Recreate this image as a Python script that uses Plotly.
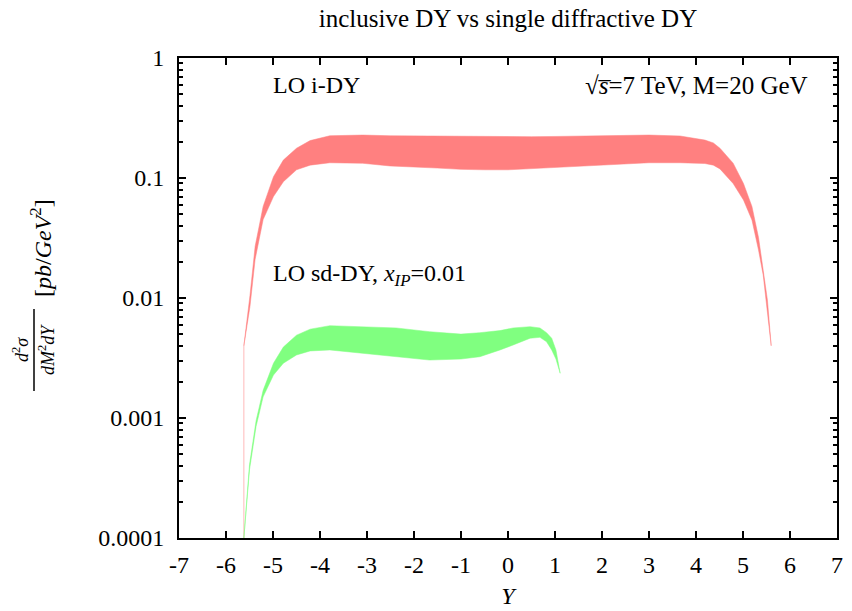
import plotly.graph_objects as go

# Inclusive Drell-Yan (LO i-DY): rapidity, lower and upper band edges [pb/GeV^2]
idy_y = [-5.62, -5.49, -5.38, -5.21, -4.99, -4.78, -4.50, -4.21, -3.79, -3.09,
         -2.51, -2.0, -1.5, -1.0, -0.5, 0.0, 0.5, 1.0, 1.5, 2.0, 2.5, 3.0,
         3.66, 4.19, 4.37, 4.51, 4.79, 5.01, 5.19, 5.33, 5.43, 5.52, 5.60]
idy_lo = [0.0040, 0.0085, 0.021, 0.045, 0.070, 0.093, 0.117, 0.128, 0.134, 0.1326,
          0.126, 0.123, 0.121, 0.118, 0.117, 0.117, 0.119, 0.121, 0.124, 0.127, 0.131, 0.134,
          0.134, 0.132, 0.128, 0.119, 0.090, 0.0656, 0.0447, 0.0251, 0.0155, 0.0075, 0.0040]
idy_hi = [0.0040, 0.0105, 0.027, 0.058, 0.1025, 0.141, 0.177, 0.205, 0.225, 0.228,
          0.225, 0.224, 0.222, 0.221, 0.220, 0.220, 0.221, 0.222, 0.223, 0.224, 0.226, 0.228,
          0.224, 0.207, 0.196, 0.177, 0.133, 0.090, 0.058, 0.032, 0.017, 0.0096, 0.0040]

# Single diffractive Drell-Yan (LO sd-DY, x_IP = 0.01)
sdy_y = [-5.62, -5.50, -5.36, -5.21, -4.99, -4.78, -4.50, -4.21, -3.79, -3.09,
         -2.38, -1.67, -1.0, -0.6, -0.17, 0.11, 0.47, 0.68, 0.82, 0.93, 1.02, 1.11]
sdy_lo = [0.0001, 0.00037, 0.00085, 0.0015, 0.00228, 0.00286, 0.00335, 0.00362, 0.00369, 0.00346,
          0.00324, 0.00304, 0.0031, 0.00324, 0.00369, 0.00406, 0.00462, 0.0047, 0.00432, 0.00369,
          0.0031, 0.00236]
sdy_hi = [0.0001, 0.00041, 0.00095, 0.0017, 0.00286, 0.0039, 0.0049, 0.0055, 0.00588, 0.00577,
          0.00563, 0.00524, 0.0050, 0.00514, 0.00535, 0.00563, 0.00577, 0.00563, 0.00514, 0.00462,
          0.00369, 0.00236]

x_ticks = [-7, -6, -5, -4, -3, -2, -1, 0, 1, 2, 3, 4, 5, 6, 7]
y_ticks = [1, 0.1, 0.01, 0.001, 0.0001]
y_tick_text = ["1", "0.1", "0.01", "0.001", "0.0001"]

RED = "#ff8080"
GREEN = "#80ff80"
SERIF = "Liberation Serif, DejaVu Serif, serif"
FS = 24

PLOT_W = 852 - 179 - 15   # width of the plotting area in px
PLOT_H = 611 - 58 - 73    # height of the plotting area in px

# minor ticks at 2..9 within each decade
y_minor = [d * m for d in y_ticks[1:] for m in range(2, 10)]


def band(x, lo, hi, color, name):
    return go.Scatter(
        x=list(x) + list(reversed(x)),
        y=list(hi) + list(reversed(lo)),
        fill="toself", fillcolor=color, mode="lines",
        line=dict(color=color, width=0.5), name=name, hoverinfo="skip",
    )


fig = go.Figure()
fig.add_trace(band(idy_y, idy_lo, idy_hi, RED, "LO i-DY"))
# thin edge dropping from the first i-DY point to the bottom of the frame
fig.add_trace(go.Scatter(
    x=[idy_y[0], idy_y[0]], y=[idy_lo[0], min(y_ticks)], mode="lines",
    line=dict(color="rgba(255,128,128,0.55)", width=1), hoverinfo="skip",
))
fig.add_trace(band(sdy_y, sdy_lo, sdy_hi, GREEN, "LO sd-DY"))

axis_common = dict(
    showline=True, linecolor="black", linewidth=2, mirror="allticks",
    ticks="inside", ticklen=7, tickwidth=2, tickcolor="black",
    showgrid=False, zeroline=False, automargin=False,
    tickfont=dict(family=SERIF, size=FS, color="black"),
)

fig.update_layout(
    width=852, height=611,
    margin=dict(l=179, r=15, t=58, b=73),
    paper_bgcolor="white", plot_bgcolor="white",
    showlegend=False,
    title=dict(text="inclusive DY vs single diffractive DY", x=0.5, xref="paper",
               xanchor="center", y=1 - 18 / 611, yanchor="middle",
               font=dict(family=SERIF, size=25, color="black")),
    xaxis=dict(range=[-7, 7], tickvals=x_ticks, ticktext=[str(v) for v in x_ticks],
               ticklabelstandoff=4,
               title=dict(text="<i>Y</i>", font=dict(family=SERIF, size=FS, color="black"),
                          standoff=10),
               **axis_common),
    yaxis=dict(type="log", range=[-4, 0], tickvals=y_ticks, ticktext=y_tick_text,
               ticklabelstandoff=8,
               minor=dict(ticks="inside", ticklen=4, tickwidth=2, tickcolor="black",
                          tickvals=y_minor),
               **axis_common),
)

# y-axis label: rotated fraction d^2σ / (dM^2 dY) followed by the unit
fig.add_annotation(x=(20 - 179) / PLOT_W, y=(538 - 350) / PLOT_H, xref="paper", yref="paper",
                   text="<i>d</i><sup>2</sup><i>σ</i>", textangle=-90, showarrow=False,
                   xanchor="center", yanchor="middle",
                   font=dict(family=SERIF, size=18, color="black"))
fig.add_annotation(x=(46 - 179) / PLOT_W, y=(538 - 350) / PLOT_H, xref="paper", yref="paper",
                   text="<i>dM</i><sup>2</sup><i>dY</i>", textangle=-90, showarrow=False,
                   xanchor="center", yanchor="middle",
                   font=dict(family=SERIF, size=18, color="black"))
fig.add_shape(type="line", xref="paper", yref="paper",
              x0=(34 - 179) / PLOT_W, x1=(34 - 179) / PLOT_W,
              y0=(538 - 391) / PLOT_H, y1=(538 - 309) / PLOT_H,
              line=dict(color="black", width=1.5))
fig.add_annotation(x=(41 - 179) / PLOT_W, y=(538 - 248) / PLOT_H, xref="paper", yref="paper",
                   text="[<i>pb</i>/<i>GeV</i><sup>2</sup>]", textangle=-90, showarrow=False,
                   xanchor="center", yanchor="middle",
                   font=dict(family=SERIF, size=FS, color="black"))

fig.add_annotation(x=-5.05, y=0, xref="x", yref="y", yshift=-27, xanchor="left", yanchor="middle",
                   text="LO i-DY", showarrow=False, font=dict(family=SERIF, size=FS, color="black"))
fig.add_annotation(x=6.42, y=0, xref="x", yref="y", yshift=-27, xanchor="right", yanchor="middle",
                   text="√<i>s\u0305</i>=7 TeV, M=20 GeV",
                   showarrow=False, font=dict(family=SERIF, size=25, color="black"))
fig.add_annotation(x=-5.05, y=-1.78, xref="x", yref="y", yshift=-3, xanchor="left",
                   yanchor="middle",
                   text="LO sd-DY, <i>x</i><sub><i>IP</i></sub>=0.01", showarrow=False,
                   font=dict(family=SERIF, size=FS, color="black"))

fig.write_html("out.html")
